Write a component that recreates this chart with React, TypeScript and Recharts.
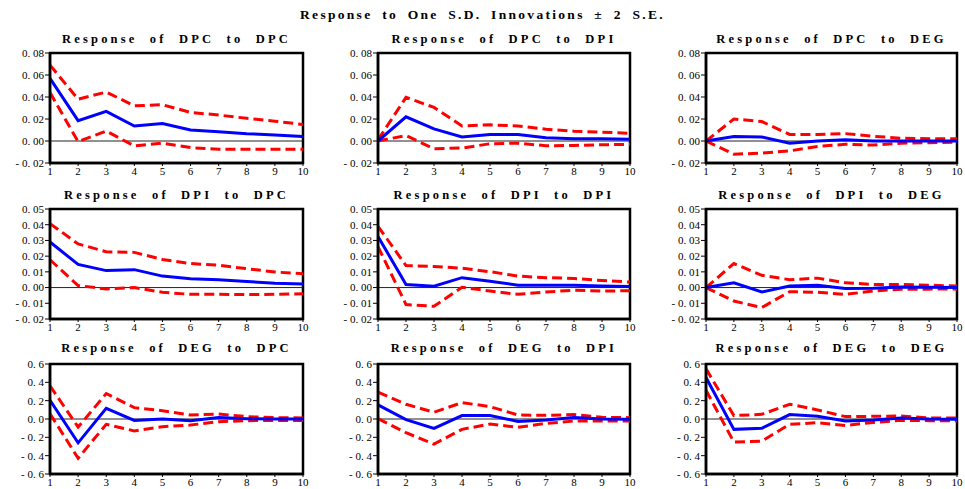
import React from "react";
import {
  LineChart,
  Line,
  XAxis,
  YAxis,
  ReferenceLine,
  ReferenceArea,
} from "recharts";

const periods = [1, 2, 3, 4, 5, 6, 7, 8, 9, 10];

// Response of DPC
const dpcDpc = [0.057, 0.0185, 0.027, 0.0136, 0.0158, 0.01, 0.0085, 0.0067, 0.0055, 0.004];
const dpcDpcHi = [0.069, 0.038, 0.0445, 0.032, 0.033, 0.026, 0.0236, 0.0206, 0.018, 0.015];
const dpcDpcLo = [0.044, -0.0006, 0.009, -0.0045, -0.002, -0.006, -0.0075, -0.0075, -0.0075, -0.0075];

const dpcDpi = [0, 0.022, 0.011, 0.0037, 0.006, 0.0058, 0.003, 0.002, 0.002, 0.0015];
const dpcDpiHi = [0.001, 0.0397, 0.0305, 0.0137, 0.0147, 0.0137, 0.0107, 0.0089, 0.008, 0.007];
const dpcDpiLo = [0, 0.005, -0.007, -0.0064, -0.0025, -0.002, -0.0043, -0.004, -0.0034, -0.003];

const dpcDeg = [0, 0.004, 0.0037, -0.002, 0, 0.0012, 0, 0, 0, 0];
const dpcDegHi = [0, 0.02, 0.0177, 0.006, 0.006, 0.0067, 0.0043, 0.0025, 0.002, 0.002];
const dpcDegLo = [0, -0.012, -0.011, -0.009, -0.005, -0.003, -0.0037, -0.002, -0.0015, -0.0012];

// Response of DPI
const dpiDpc = [0.029, 0.0147, 0.0108, 0.0114, 0.0073, 0.0056, 0.005, 0.0039, 0.0028, 0.0022];
const dpiDpcHi = [0.0407, 0.0278, 0.0228, 0.0224, 0.0179, 0.0153, 0.0142, 0.012, 0.0099, 0.0088];
const dpiDpcLo = [0.0177, 0.0013, -0.0009, 0, -0.003, -0.0043, -0.0043, -0.0045, -0.0043, -0.004];

const dpiDpi = [0.0325, 0.002, 0.0009, 0.0063, 0.004, 0.0015, 0.0015, 0.0015, 0.001, 0.0007];
const dpiDpiHi = [0.039, 0.014, 0.0134, 0.0123, 0.0101, 0.0073, 0.0063, 0.0058, 0.0045, 0.0035];
const dpiDpiLo = [0.026, -0.0108, -0.0119, 0.0002, -0.0022, -0.0043, -0.0028, -0.0017, -0.0022, -0.002];

const dpiDeg = [0, 0.003, -0.0028, 0.001, 0.0015, -0.0006, -0.0004, 0.0004, 0.0002, 0];
const dpiDegHi = [0, 0.0153, 0.0078, 0.005, 0.006, 0.003, 0.002, 0.002, 0.0015, 0.001];
const dpiDegLo = [0, -0.0086, -0.0127, -0.0026, -0.003, -0.0043, -0.0022, -0.001, -0.001, -0.0009];

// Response of DEG
const degDpc = [0.205, -0.26, 0.117, -0.015, 0, -0.018, 0.015, 0.004, 0, 0];
const degDpcHi = [0.362, -0.088, 0.278, 0.124, 0.091, 0.044, 0.055, 0.026, 0.015, 0.011];
const degDpcLo = [0.058, -0.428, -0.058, -0.13, -0.084, -0.066, -0.029, -0.018, -0.015, -0.015];

const degDpi = [0.154, -0.007, -0.102, 0.037, 0.037, -0.026, -0.011, 0.015, 0, -0.004];
const degDpiHi = [0.293, 0.161, 0.073, 0.179, 0.135, 0.044, 0.04, 0.048, 0.018, 0.015];
const degDpiLo = [0.004, -0.15, -0.274, -0.113, -0.055, -0.091, -0.048, -0.022, -0.022, -0.022];

const degDeg = [0.453, -0.113, -0.102, 0.048, 0.029, -0.022, -0.011, 0.011, 0, -0.004];
const degDegHi = [0.548, 0.037, 0.051, 0.161, 0.099, 0.026, 0.029, 0.033, 0.011, 0.011];
const degDegLo = [0.314, -0.252, -0.241, -0.058, -0.04, -0.07, -0.037, -0.015, -0.018, -0.018];

const ticksDpc = [-0.02, 0, 0.02, 0.04, 0.06, 0.08];
const ticksDpi = [-0.02, -0.01, 0, 0.01, 0.02, 0.03, 0.04, 0.05];
const ticksDeg = [-0.6, -0.4, -0.2, 0, 0.2, 0.4, 0.6];

const FONT = "Liberation Serif, Times New Roman, Tinos, DejaVu Serif, serif";

// plot area placement
const COL_LEFT = [50, 378, 706];
const COL_WIDTH = [253, 252, 251];
const ROW_TOP = [53, 209, 364];
const ROW_TITLE = [39, 195, 348];
const PLOT_H = 110;
const Y_AXIS_W = 50;
const M_TOP = 8;
const M_RIGHT = 8;
const X_AXIS_H = 20;

const fmt = (decimals: number) => (v: number) => {
  const s = Math.abs(v).toFixed(decimals).replace(".", ". ");
  return v < -1e-9 ? "- " + s : s;
};

interface PanelProps {
  title: string;
  resp: number[];
  hi: number[];
  lo: number[];
  ticks: number[];
  decimals: number;
  row: number;
  col: number;
}

function Panel({ title, resp, hi, lo, ticks, decimals, row, col }: PanelProps) {
  const data = periods.map((p, i) => ({ period: p, resp: resp[i], hi: hi[i], lo: lo[i] }));
  const plotW = COL_WIDTH[col];
  const w = Y_AXIS_W + plotW + M_RIGHT;
  const h = M_TOP + PLOT_H + X_AXIS_H;
  const yMin = ticks[0];
  const yMax = ticks[ticks.length - 1];
  const tickStyle = { fontFamily: FONT, fontSize: 11, fill: "#000" };

  return (
    <>
      <div
        style={{
          position: "absolute",
          left: COL_LEFT[col] - 20,
          width: plotW + 40,
          top: ROW_TITLE[row] - 8,
          textAlign: "center",
          fontFamily: FONT,
          fontWeight: "bold",
          fontSize: 12.5,
          letterSpacing: 3.2,
          wordSpacing: 6,
          lineHeight: "16px",
          whiteSpace: "nowrap",
        }}
      >
        {title}
      </div>
      <div
        style={{
          position: "absolute",
          left: COL_LEFT[col] - Y_AXIS_W,
          top: ROW_TOP[row] - M_TOP,
          fontFamily: FONT,
        }}
      >
        <LineChart
          width={w}
          height={h}
          data={data}
          margin={{ top: M_TOP, right: M_RIGHT, bottom: 0, left: 0 }}
          style={{ fontFamily: FONT }}
        >
          <XAxis
            dataKey="period"
            type="number"
            domain={[1, 10]}
            ticks={periods}
            interval={0}
            height={X_AXIS_H}
            tick={tickStyle}
            tickSize={3}
            tickMargin={1}
            axisLine={{ stroke: "#000", strokeWidth: 2.5 }}
            tickLine={{ stroke: "#000" }}
          />
          <YAxis
            type="number"
            domain={[yMin, yMax]}
            ticks={ticks}
            interval={0}
            width={Y_AXIS_W}
            tick={tickStyle}
            tickFormatter={fmt(decimals)}
            tickSize={5}
            tickMargin={1}
            axisLine={{ stroke: "#000", strokeWidth: 2.5 }}
            tickLine={{ stroke: "#000" }}
          />
          <ReferenceArea
            x1={1}
            x2={10}
            y1={yMin}
            y2={yMax}
            fill="none"
            stroke="#000"
            strokeWidth={2.5}
            ifOverflow="visible"
          />
          <ReferenceLine y={0} stroke="#222" strokeWidth={1} />
          <Line
            dataKey="hi"
            stroke="#ff0000"
            strokeWidth={3}
            strokeDasharray="10 5"
            dot={false}
            isAnimationActive={false}
          />
          <Line
            dataKey="lo"
            stroke="#ff0000"
            strokeWidth={3}
            strokeDasharray="10 5"
            dot={false}
            isAnimationActive={false}
          />
          <Line
            dataKey="resp"
            stroke="#0000ff"
            strokeWidth={3}
            dot={false}
            isAnimationActive={false}
          />
        </LineChart>
      </div>
    </>
  );
}

export default function App() {
  return (
    <div
      style={{
        position: "absolute",
        left: 0,
        top: 0,
        width: 965,
        height: 489,
        background: "#fff",
        overflow: "hidden",
      }}
    >
      <div
        style={{
          position: "absolute",
          left: 0,
          width: 965,
          top: 7,
          textAlign: "center",
          fontFamily: FONT,
          fontWeight: "bold",
          fontSize: 13.5,
          letterSpacing: 2.3,
          wordSpacing: 4,
          lineHeight: "16px",
          whiteSpace: "nowrap",
        }}
      >
        Response to One S.D. Innovations ± 2 S.E.
      </div>

      <Panel title="Response of DPC to DPC" resp={dpcDpc} hi={dpcDpcHi} lo={dpcDpcLo} ticks={ticksDpc} decimals={2} row={0} col={0} />
      <Panel title="Response of DPC to DPI" resp={dpcDpi} hi={dpcDpiHi} lo={dpcDpiLo} ticks={ticksDpc} decimals={2} row={0} col={1} />
      <Panel title="Response of DPC to DEG" resp={dpcDeg} hi={dpcDegHi} lo={dpcDegLo} ticks={ticksDpc} decimals={2} row={0} col={2} />

      <Panel title="Response of DPI to DPC" resp={dpiDpc} hi={dpiDpcHi} lo={dpiDpcLo} ticks={ticksDpi} decimals={2} row={1} col={0} />
      <Panel title="Response of DPI to DPI" resp={dpiDpi} hi={dpiDpiHi} lo={dpiDpiLo} ticks={ticksDpi} decimals={2} row={1} col={1} />
      <Panel title="Response of DPI to DEG" resp={dpiDeg} hi={dpiDegHi} lo={dpiDegLo} ticks={ticksDpi} decimals={2} row={1} col={2} />

      <Panel title="Response of DEG to DPC" resp={degDpc} hi={degDpcHi} lo={degDpcLo} ticks={ticksDeg} decimals={1} row={2} col={0} />
      <Panel title="Response of DEG to DPI" resp={degDpi} hi={degDpiHi} lo={degDpiLo} ticks={ticksDeg} decimals={1} row={2} col={1} />
      <Panel title="Response of DEG to DEG" resp={degDeg} hi={degDegHi} lo={degDegLo} ticks={ticksDeg} decimals={1} row={2} col={2} />
    </div>
  );
}
